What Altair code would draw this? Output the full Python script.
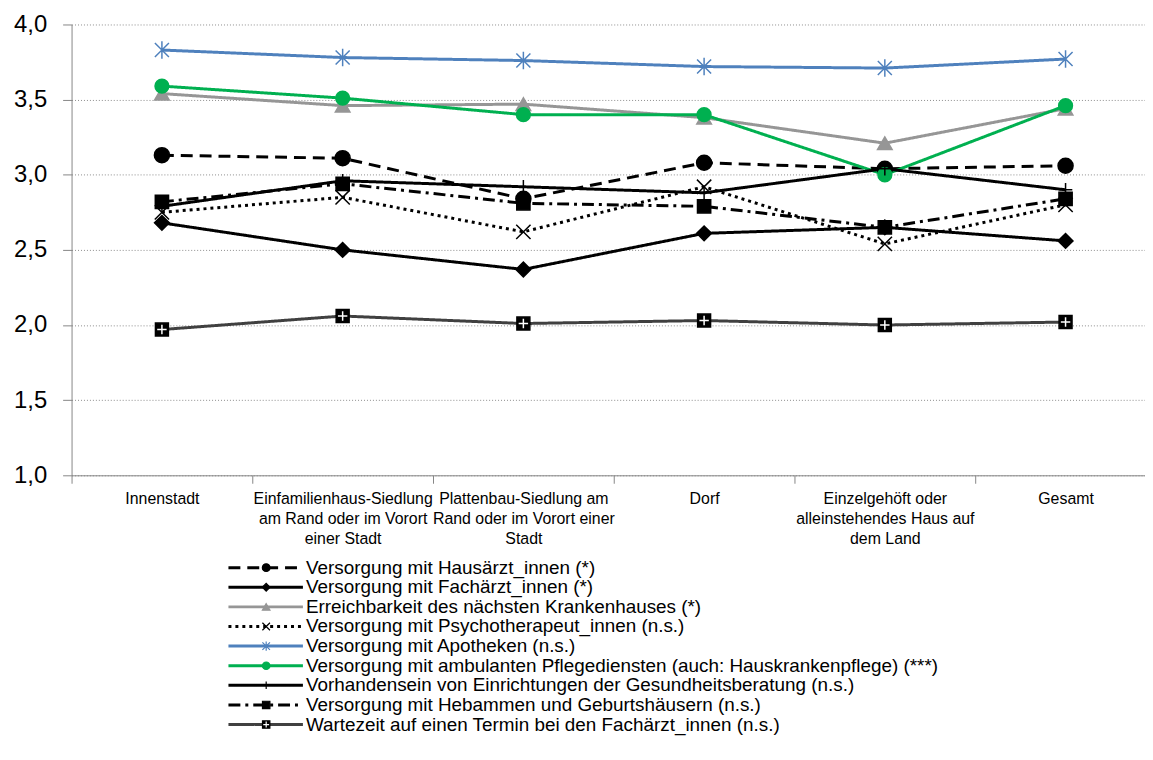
import altair as alt
import pandas as pd

# ---------------- data ----------------
categories = [
    "Innenstadt",
    "Einfamilienhaus-Siedlung\nam Rand oder im Vorort\neiner Stadt",
    "Plattenbau-Siedlung am\nRand oder im Vorort einer\nStadt",
    "Dorf",
    "Einzelgehöft oder\nalleinstehendes Haus auf\ndem Land",
    "Gesamt",
]

series = [
    "Versorgung mit Hausärzt_innen (*)",
    "Versorgung mit Fachärzt_innen (*)",
    "Erreichbarkeit des nächsten Krankenhauses (*)",
    "Versorgung mit Psychotherapeut_innen (n.s.)",
    "Versorgung mit Apotheken (n.s.)",
    "Versorgung mit ambulanten Pflegediensten (auch: Hauskrankenpflege) (***)",
    "Vorhandensein von Einrichtungen der Gesundheitsberatung (n.s.)",
    "Versorgung mit Hebammen und Geburtshäusern (n.s.)",
    "Wartezeit auf einen Termin bei den Fachärzt_innen (n.s.)",
]

hausaerzte = [3.13, 3.11, 2.84, 3.08, 3.04, 3.06]
fachaerzte = [2.68, 2.50, 2.37, 2.61, 2.65, 2.56]
krankenhaus = [3.54, 3.46, 3.47, 3.38, 3.21, 3.44]
psychotherapeuten = [2.75, 2.85, 2.62, 2.92, 2.54, 2.80]
apotheken = [3.83, 3.78, 3.76, 3.72, 3.71, 3.77]
pflegedienste = [3.59, 3.51, 3.40, 3.40, 3.00, 3.46]
gesundheitsberatung = [2.79, 2.96, 2.92, 2.88, 3.04, 2.90]
hebammen = [2.82, 2.94, 2.81, 2.79, 2.65, 2.84]
wartezeit = [1.97, 2.06, 2.01, 2.03, 2.00, 2.02]

values = [hausaerzte, fachaerzte, krankenhaus, psychotherapeuten, apotheken,
          pflegedienste, gesundheitsberatung, hebammen, wartezeit]

y_ticks = [1.0, 1.5, 2.0, 2.5, 3.0, 3.5, 4.0]

# ---------------- styles ----------------
X_PATH = "M-1,-1L1,1M-1,1L1,-1"
AST_PATH = "M-1,-1L1,1M-1,1L1,-1M0,-1.25L0,1.25"
PLUS_PATH = "M0,-1L0,1M-1,0L1,0"

line_colors = ["#000000", "#000000", "#969696", "#000000", "#4F81BD",
               "#00B050", "#000000", "#000000", "#404040"]
line_dashes = [[12, 7], [1, 0], [1, 0], [3, 4], [1, 0], [1, 0], [1, 0],
               [12, 5, 3, 5], [1, 0]]
shapes = ["circle", "diamond", "triangle-up", X_PATH, AST_PATH, "circle",
          PLUS_PATH, "square", "square"]
fills = ["#000000", "#000000", "#969696", "transparent", "transparent",
         "#00B050", "transparent", "#000000", "#000000"]
strokes = ["#000000", "#000000", "#969696", "#000000", "#4F81BD",
           "#00B050", "#000000", "#000000", "#000000"]
sizes_main = [230, 170, 120, 150, 170, 160, 220, 250, 160]
sizes_leg = [60, 55, 45, 45, 55, 70, 60, 70, 70]

rows = []
for s, vals in zip(series, values):
    for c, v in zip(categories, vals):
        rows.append({"series": s, "cat": c, "value": v})
df = pd.DataFrame(rows)
leg_df = pd.DataFrame({"series": series})

color_sc = alt.Scale(domain=series, range=line_colors)
dash_sc = alt.Scale(domain=series, range=line_dashes)
shape_sc = alt.Scale(domain=series, range=shapes)
fill_sc = alt.Scale(domain=series, range=fills)
stroke_sc = alt.Scale(domain=series, range=strokes)

# plot area runs past the right edge of the page, as in the original
x_scale = alt.Scale(type="band", paddingInner=0, paddingOuter=0, range=[0, 1092])
y_scale = alt.Scale(domain=[1, 4], zero=False, nice=False)

x_axis = alt.Axis(
    title=None, tickBand="extent", labelAngle=0, tickSize=8, labelPadding=7,
    labelExpr="split(datum.label, '\\n')",
    labelFont="Liberation Sans", labelFontSize=16, labelLineHeight=20.5,
    labelColor="#000000", labelOverlap=False, labelBound=False, labelLimit=0,
    domainColor="#868686", tickColor="#868686", grid=False,
)
y_axis = alt.Axis(
    title=None, values=y_ticks, tickSize=9, labelPadding=16,
    labelExpr="replace(format(datum.value, '.1f'), '.', ',')",
    labelFont="Liberation Sans", labelFontSize=24, labelColor="#000000",
    domainColor="#868686", tickColor="#868686",
    grid=True, gridColor="#8c8c8c", gridDash=[1, 2], gridWidth=1,
)

X = alt.X("cat:N", sort=categories, scale=x_scale, bandPosition=0.5, axis=x_axis)

lines = alt.Chart(df).mark_line(strokeWidth=3, strokeCap="butt").encode(
    x=X,
    y=alt.Y("value:Q", scale=y_scale, axis=y_axis),
    color=alt.Color("series:N", scale=color_sc, legend=None),
    strokeDash=alt.StrokeDash("series:N", scale=dash_sc, legend=None),
    detail="series:N",
)

points = alt.Chart(df).mark_point(opacity=1, strokeWidth=1.5).encode(
    x=X,
    y=alt.Y("value:Q", scale=y_scale, axis=None),
    shape=alt.Shape("series:N", scale=shape_sc, legend=None),
    fill=alt.Fill("series:N", scale=fill_sc, legend=None),
    stroke=alt.Stroke("series:N", scale=stroke_sc, legend=None),
    size=alt.Size("series:N", scale=alt.Scale(domain=series, range=sizes_main), legend=None),
)

plus_white = alt.Chart(df).transform_filter(
    alt.datum.series == series[8]
).mark_point(shape=PLUS_PATH, filled=False, stroke="#ffffff", strokeWidth=1.5,
             opacity=1, size=90).encode(
    x=X,
    y=alt.Y("value:Q", scale=y_scale, axis=None),
)

# ---------------- legend (drawn below the plot) ----------------
LY = alt.Y("series:N", sort=series,
           scale=alt.Scale(type="point", domain=series, range=[547, 705], padding=0),
           axis=None)

leg_rule = alt.Chart(leg_df).mark_rule(strokeWidth=3, strokeCap="butt").encode(
    x=alt.value(158), x2=alt.value(233), y=LY,
    color=alt.Color("series:N", scale=color_sc, legend=None),
    strokeDash=alt.StrokeDash("series:N", scale=dash_sc, legend=None),
)
leg_pts = alt.Chart(leg_df).mark_point(opacity=1, strokeWidth=1.2).encode(
    x=alt.value(196), y=LY,
    shape=alt.Shape("series:N", scale=shape_sc, legend=None),
    fill=alt.Fill("series:N", scale=fill_sc, legend=None),
    stroke=alt.Stroke("series:N", scale=stroke_sc, legend=None),
    size=alt.Size("series:N", scale=alt.Scale(domain=series, range=sizes_leg), legend=None),
)
leg_plus = alt.Chart(leg_df).transform_filter(
    alt.datum.series == series[8]
).mark_point(shape=PLUS_PATH, filled=False, stroke="#ffffff", strokeWidth=1.2,
             opacity=1, size=35).encode(x=alt.value(196), y=LY)
leg_text = alt.Chart(leg_df).mark_text(
    align="left", baseline="middle", font="Liberation Sans", fontSize=19, color="#000000"
).encode(x=alt.value(236), y=LY, text="series:N")

chart = alt.layer(
    lines, points, plus_white, leg_rule, leg_pts, leg_plus, leg_text
).resolve_scale(
    y="independent", size="independent"
).properties(
    width=1081, height=454,
    autosize=alt.AutoSizeParams(type="none"),
    padding={"left": 64, "top": 14, "right": 0, "bottom": 270},
    background="#ffffff",
).configure_view(stroke=None)

chart.save("out.html", embed_options={"renderer": "svg", "actions": False})
